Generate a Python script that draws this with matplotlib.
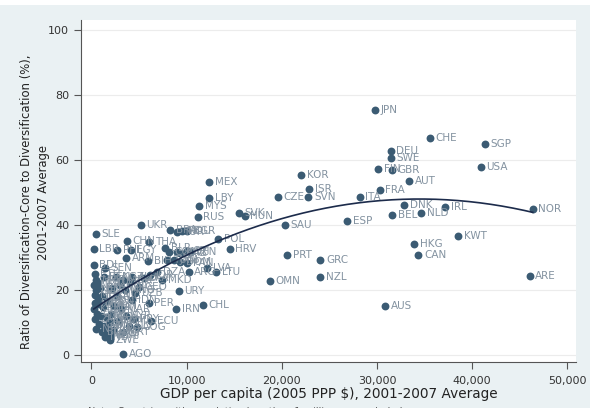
import numpy as np
import matplotlib
matplotlib.use("Agg")
import matplotlib.pyplot as plt
from matplotlib.patches import Rectangle
from matplotlib.ticker import FuncFormatter

# country codes, GDP per capita (2005 PPP $) and core ratio (%)
codes = ["JPN", "CHE", "SGP", "DEU", "SWE", "FIN", "GBR", "USA", "KOR", "AUT",
         "ISR", "FRA", "SVN", "CZE", "ITA", "DNK", "IRL", "NOR", "BEL", "NLD",
         "ESP", "SAU", "KWT", "HKG", "CAN", "PRT", "GRC", "ARE", "NZL", "OMN",
         "AUS", "MEX", "LBY", "MYS", "RUS", "SVK", "HUN", "POL", "HRV", "UKR",
         "SLE", "BRA", "TUR", "ROU", "BGR", "LBR", "CHN", "THA", "PHL", "EGY",
         "ARM", "BIH", "BLR", "COL", "ZAF", "KAZ", "CRI", "VEN", "TUN", "JAM",
         "DOM", "PAN", "BDI", "SEN", "DZA", "JOR", "MKD", "ARG", "LVA", "LTU",
         "URY", "IRN", "CHL", "PER", "ECU", "AGO", "NGA", "ALB", "BEN",
         "ETH", "MWI", "NER", "TCD", "MLI", "BFA", "MOZ", "TZA", "UGA", "RWA",
         "MDG", "KEN", "GHA", "CMR", "CIV", "ZMB", "TGO", "GIN", "GMB", "NPL",
         "BGD", "PAK", "IND", "KHM", "LAO", "VNM", "YEM", "SDN", "HTI", "NIC",
         "HND", "BOL", "MNG", "MDA", "KGZ", "TJK", "UZB", "GEO", "LKA", "IDN",
         "MAR", "SYR", "GTM", "SLV", "PRY", "MRT", "COG", "ZWE"]
gdp = [29760, 35580, 41310, 31440, 31440, 30110, 31580, 40900, 22030, 33400,
       22870, 30280, 22790, 19600, 28180, 32880, 37180, 46360, 31620, 34660,
       26890, 20350, 38520, 33890, 34350, 20590, 24050, 46040, 24050, 18730,
       30880, 12360, 12390, 11310, 11170, 15510, 16100, 13340, 14530, 5180,
       490, 8300, 9000, 9520, 10050, 240, 3710, 6060, 2690, 4100,
       3630, 5950, 7770, 8100, 9000, 9350, 10050, 10400, 7950, 8650,
       9300, 10050, 240, 1470, 6900, 6200, 7420, 10220, 12150, 13130,
       9170, 8930, 11690, 6020, 6300, 3320, 1650, 4270, 1300,
       350, 500, 300, 700, 450, 900, 350, 650, 1100, 400,
       800, 300, 1200, 600, 1000, 350, 1500, 800, 1300, 500,
       1100, 1700, 1400, 2000, 2300, 1900, 2100, 1600, 2400, 2700,
       2200, 3000, 3500, 3300, 2600, 4000, 4600, 5000, 5500, 4300,
       3100, 3600, 2800, 3900, 4500, 3300, 4800, 1900]
ratio = [75.4, 66.6, 65.0, 62.7, 60.5, 57.2, 56.8, 57.8, 55.2, 53.6,
         51.0, 50.6, 48.5, 48.5, 48.6, 46.2, 45.5, 44.9, 43.1, 43.6,
         41.1, 39.8, 36.7, 34.2, 30.8, 30.8, 29.3, 24.4, 23.8, 22.6,
         15.1, 53.3, 48.2, 45.8, 42.3, 43.6, 42.6, 35.6, 32.7, 40.0,
         37.1, 38.5, 37.7, 38.2, 38.0, 32.7, 34.9, 34.6, 32.3, 32.3,
         29.7, 29.0, 32.9, 31.7, 31.7, 31.4, 32.0, 31.7, 29.2, 29.2,
         28.7, 28.2, 27.5, 26.7, 25.6, 24.6, 23.1, 25.6, 26.7, 25.6,
         19.5, 14.2, 15.4, 16.1, 10.3, 0.3, 6.2, 24.1, 24.0,
         24.8, 23.0, 21.5, 22.0, 20.0, 20.5, 18.5, 17.5, 18.0, 16.0,
         15.5, 14.0, 14.8, 12.5, 12.0, 11.0, 11.5, 9.5, 9.0, 8.0,
         7.0, 8.0, 5.5, 6.0, 7.5, 10.0, 12.5, 16.5, 15.0, 18.0,
         20.5, 21.5, 20.0, 23.0, 24.0, 22.5, 19.0, 21.0, 23.5, 17.0,
         14.0, 12.0, 10.5, 9.0, 11.0, 7.0, 8.5, 4.5]

x_ticks = [0, 10000, 20000, 30000, 40000, 50000]
y_ticks = [0, 20, 40, 60, 80, 100]

gdp = np.array(gdp, dtype=float)
ratio = np.array(ratio, dtype=float)

fig = plt.figure(figsize=(5.93, 4.08), dpi=100, facecolor="white")
fig.patches.append(Rectangle((0, 0), 590 / 593, 403 / 408, transform=fig.transFigure,
                             facecolor="#eaf1f3", edgecolor="none", zorder=-10))
ax = fig.add_axes([81 / 593, 1 - 362 / 408, 495 / 593, 342 / 408])
ax.set_facecolor("white")

dot = "#3b5b73"
ax.scatter(gdp, ratio, s=32, color=dot, zorder=3, linewidths=0)
for c, xv, yv in zip(codes, gdp, ratio):
    ax.annotate(c, (xv, yv), xytext=(4, 0), textcoords="offset points",
                va="center", ha="left", fontsize=7.5, color="#8392a0", zorder=4)

# quadratic fit, as in the original
coef = np.polyfit(gdp, ratio, 2)
xf = np.linspace(gdp.min(), gdp.max(), 200)
ax.plot(xf, np.polyval(coef, xf), color="#1c2b4b", lw=1.2, zorder=5)

ax.set_xlim(-1100, 50900)
ax.set_ylim(-2.2, 103)
ax.set_xticks(x_ticks)
ax.set_yticks(y_ticks)
ax.xaxis.set_major_formatter(FuncFormatter(lambda v, p: f"{int(v):,}"))
ax.grid(axis="y", color="#ececec", lw=0.8)
ax.set_axisbelow(True)
for s in ["top", "right"]:
    ax.spines[s].set_visible(False)
for s in ["left", "bottom"]:
    ax.spines[s].set_color("#555555")
    ax.spines[s].set_linewidth(0.8)
ax.tick_params(length=5, width=0.8, color="#555555", labelsize=8, labelcolor="#333333")
ax.tick_params(axis="x", pad=5)

ax.set_xlabel("GDP per capita (2005 PPP $), 2001-2007 Average", fontsize=9.8,
              color="#222222", labelpad=1)
fig.text(35 / 593, 1 - 202 / 408,
         "Ratio of Diversification-Core to Diversification (%),\n2001-2007 Average",
         rotation=90, ha="center", va="center", multialignment="center",
         fontsize=8.4, color="#222222", linespacing=1.45)

fig.text(88 / 593, -9 / 408, "Note: Countries with population less than 1 million are excluded.",
         fontsize=7, color="#555555", va="bottom")

fig.savefig("out.png", dpi=100, facecolor=fig.get_facecolor())
